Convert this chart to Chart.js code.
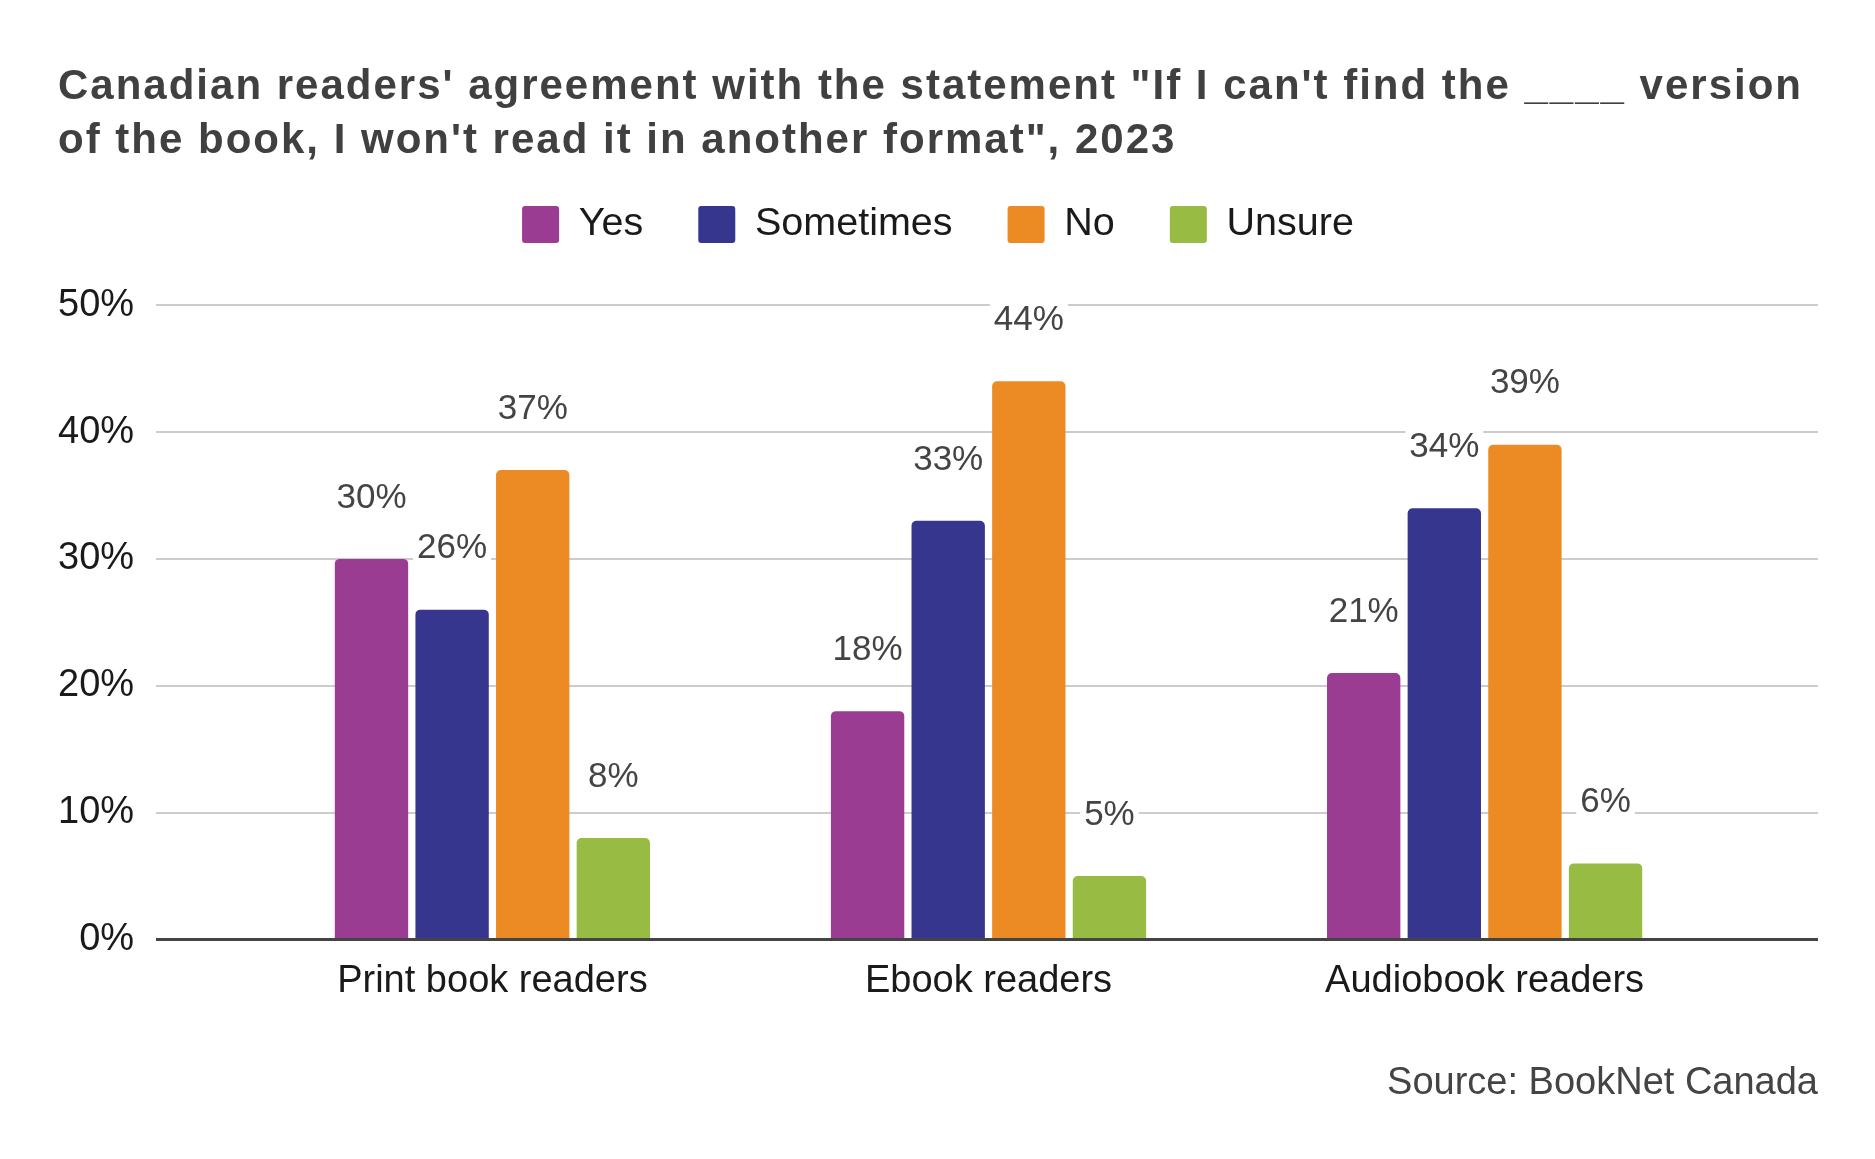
<!DOCTYPE html>
<html>
<head>
<meta charset="utf-8">
<script src="https://cdn.jsdelivr.net/npm/chart.js@4"></script>
<style>
  html, body { margin: 0; padding: 0; background: #fff; }
  #wrap { width: 1875px; height: 1159px; }
</style>
</head>
<body>
<div id="wrap"><canvas id="formatChart" width="1875" height="1159"></canvas></div>
<script>
const readerGroups = ["Print book readers", "Ebook readers", "Audiobook readers"];
const yesValues = [30, 18, 21];
const sometimesValues = [26, 33, 34];
const noValues = [37, 44, 39];
const unsureValues = [8, 5, 6];
const yTickValues = [0, 10, 20, 30, 40, 50];

const seriesColours = {
  Yes: "#993c92",
  Sometimes: "#37368f",
  No: "#ec8a24",
  Unsure: "#97bb43",
};

Chart.defaults.font.family = "'Liberation Sans', Arial, sans-serif";

function toPoints(values) {
  return values.map((v, i) => ({ x: i, y: v }));
}

// percentage labels above each bar, on a white patch that breaks the gridline
const barValueLabels = {
  id: "barValueLabels",
  afterDatasetsDraw(chart) {
    const ctx = chart.ctx;
    ctx.save();
    ctx.font = "35px 'Liberation Sans', Arial, sans-serif";
    ctx.textAlign = "center";
    ctx.textBaseline = "middle";
    chart.data.datasets.forEach((ds, di) => {
      chart.getDatasetMeta(di).data.forEach((bar, i) => {
        const text = ds.data[i].y + "%";
        const w = ctx.measureText(text).width;
        const y = bar.y - 61;
        ctx.fillStyle = "#ffffff";
        ctx.fillRect(bar.x - w / 2 - 4, y - 18, w + 8, 36);
        ctx.fillStyle = "#444444";
        ctx.fillText(text, bar.x, y);
      });
    });
    ctx.restore();
  },
};

// title is drawn letter-spaced, legend block gets extra room below it
const layoutTweaks = {
  id: "layoutTweaks",
  beforeInit(chart) {
    const legend = chart.legend;
    if (legend) {
      const origFit = legend.fit.bind(legend);
      legend.fit = function () {
        origFit();
        this.height += 51;
      };
    }
  },
  beforeDraw(chart) {
    const tb = chart.titleBlock;
    if (tb && !tb._spaced) {
      const origDraw = tb.draw.bind(tb);
      tb.draw = function () {
        const ctx = chart.ctx;
        ctx.save();
        ctx.letterSpacing = "2px";
        origDraw();
        ctx.restore();
      };
      tb._spaced = true;
    }
  },
};

function makeDataset(label, values) {
  return {
    label: label,
    data: toPoints(values),
    backgroundColor: seriesColours[label],
    borderRadius: 5,
    borderSkipped: "start",
    categoryPercentage: 0.65,
    barPercentage: 0.91,
  };
}

new Chart(document.getElementById("formatChart"), {
  type: "bar",
  data: {
    datasets: [
      makeDataset("Yes", yesValues),
      makeDataset("Sometimes", sometimesValues),
      makeDataset("No", noValues),
      makeDataset("Unsure", unsureValues),
    ],
  },
  options: {
    responsive: false,
    animation: false,
    devicePixelRatio: 1,
    layout: {
      padding: { left: 58, right: 57, top: 0, bottom: 42 },
    },
    scales: {
      x: {
        type: "linear",
        min: -0.678,
        max: 2.672,
        offset: false,
        grid: { display: false, drawTicks: false },
        border: { display: false },
        afterBuildTicks: (axis) => {
          axis.ticks = readerGroups.map((_, i) => ({ value: i }));
        },
        afterFit: (axis) => {
          axis.height -= 19.5;
        },
        ticks: {
          autoSkip: false,
          maxRotation: 0,
          padding: 19.5,
          color: "#1a1a1a",
          font: { size: 38 },
          callback: (value) => readerGroups[value],
        },
      },
      y: {
        min: 0,
        max: 50,
        afterBuildTicks: (axis) => {
          axis.ticks = yTickValues.map((v) => ({ value: v }));
        },
        afterFit: (axis) => {
          axis.width -= 22;
        },
        grid: {
          drawTicks: false,
          color: (c) => (c.tick && c.tick.value === 0 ? "#444444" : "#cccccc"),
          lineWidth: (c) => (c.tick && c.tick.value === 0 ? 3 : 2),
        },
        border: { display: false },
        ticks: {
          padding: 22,
          color: "#1a1a1a",
          font: { size: 38 },
          callback: (value) => value + "%",
        },
      },
    },
    plugins: {
      title: {
        display: true,
        align: "start",
        text: [
          "Canadian readers' agreement with the statement \"If I can't find the ____ version",
          "of the book, I won't read it in another format\", 2023",
        ],
        color: "#404040",
        font: { size: 42, weight: "bold", lineHeight: 1.27 },
        padding: { top: 61, bottom: -18 },
      },
      legend: {
        display: true,
        position: "top",
        labels: {
          boxWidth: 37,
          boxHeight: 37,
          useBorderRadius: true,
          borderRadius: 3,
          padding: 55,
          color: "#1a1a1a",
          font: { size: 39.5 },
        },
      },
      subtitle: {
        display: true,
        position: "bottom",
        align: "end",
        text: "Source: BookNet Canada",
        color: "#444444",
        font: { size: 38 },
        padding: { top: 56.4, bottom: 10.4 },
      },
      tooltip: { enabled: false },
    },
  },
  plugins: [barValueLabels, layoutTweaks],
});
</script>
</body>
</html>
